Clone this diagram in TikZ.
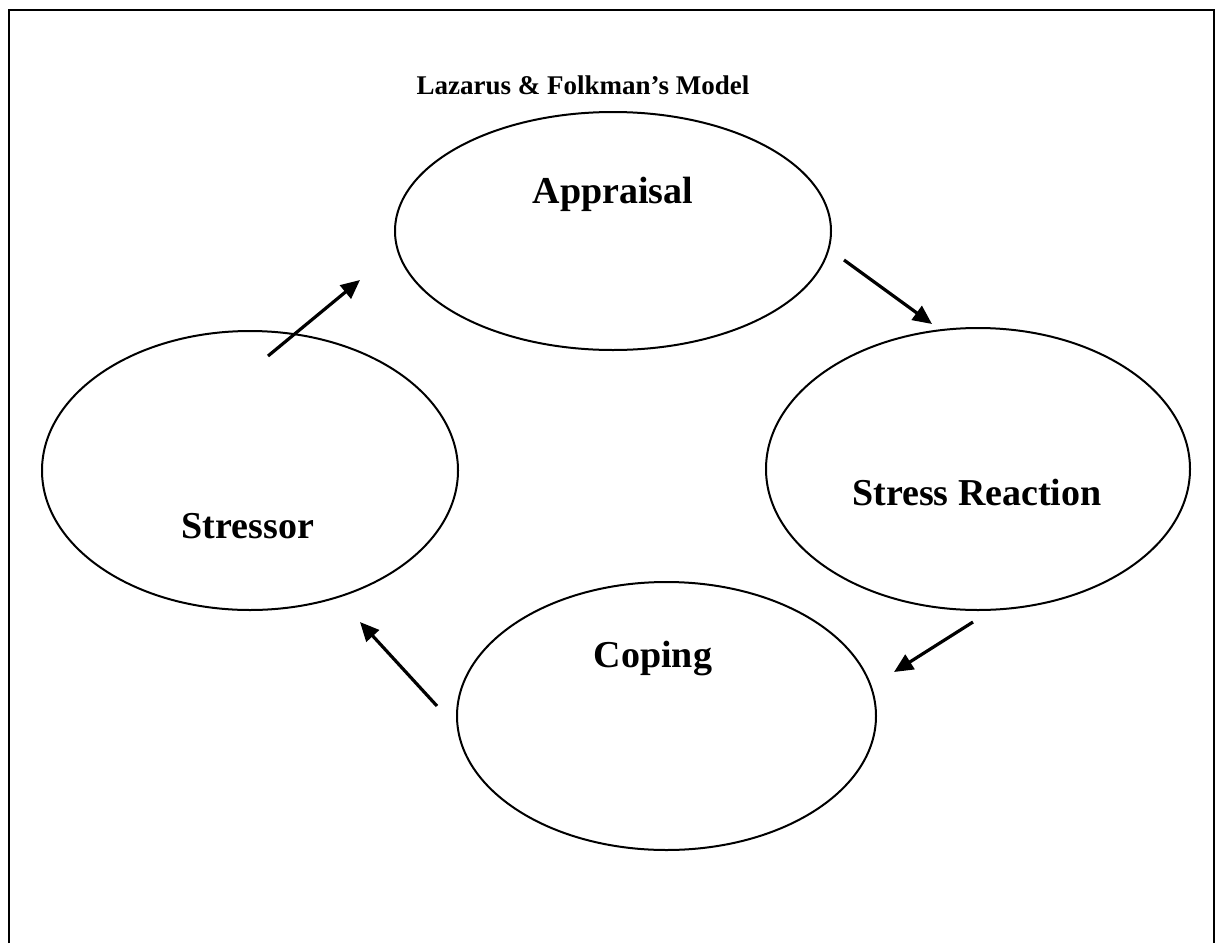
\documentclass[tikz,border=0pt]{standalone}
\usepackage{fontspec}
\setmainfont{Liberation Serif}
\usetikzlibrary{shapes.geometric,arrows.meta}
\begin{document}
\begin{tikzpicture}[x=1pt,y=-1pt,
  stage/.style={draw, ellipse, line width=2pt, inner sep=0pt},
  stagetext/.style={font=\bfseries\fontsize{38}{41}\selectfont, anchor=base, inner sep=0pt},
  flow/.style={line width=3.2pt, -{Triangle[length=19pt,width=17pt]}}]
  \useasboundingbox (0,0) rectangle (1216,943);
  % frame, open at the bottom
  \draw[line width=2.6pt] (9,943) -- (9,10) -- (1214,10) -- (1214,943);
  % title
  \node[anchor=base, inner sep=0pt, font=\bfseries\fontsize{27}{30}\selectfont] (title) at (583,94) {Lazarus \& Folkman’s Model};
  % the four stages
  \node[stage, minimum width=436pt, minimum height=238pt] (app) at (613,231) {};
  \node[stage, minimum width=424pt, minimum height=282pt] (str) at (978,469) {};
  \node[stage, minimum width=419pt, minimum height=268pt] (cop) at (666.5,716) {};
  \node[stage, minimum width=416pt, minimum height=279pt] (sor) at (250,470.5) {};
  \node[stagetext] (appt) at (613,203) {Appraisal};
  \node[stagetext] (strt) at (977,505) {Stress Reaction};
  \node[stagetext] (copt) at (653,667) {Coping};
  \node[stagetext] (sort) at (248,538) {Stressor};
  % arrow ends
  \coordinate (a1s) at (268,356);
  \coordinate (a1e) at (360,280);
  \coordinate (a2s) at (844,260);
  \coordinate (a2e) at (932,324);
  \coordinate (a3s) at (973,622);
  \coordinate (a3e) at (894,672);
  \coordinate (a4s) at (437,706);
  \coordinate (a4e) at (360,622);
  \draw[flow] (a1s) -- (a1e);
  \draw[flow] (a2s) -- (a2e);
  \draw[flow] (a3s) -- (a3e);
  \draw[flow] (a4s) -- (a4e);
\end{tikzpicture}
\end{document}
